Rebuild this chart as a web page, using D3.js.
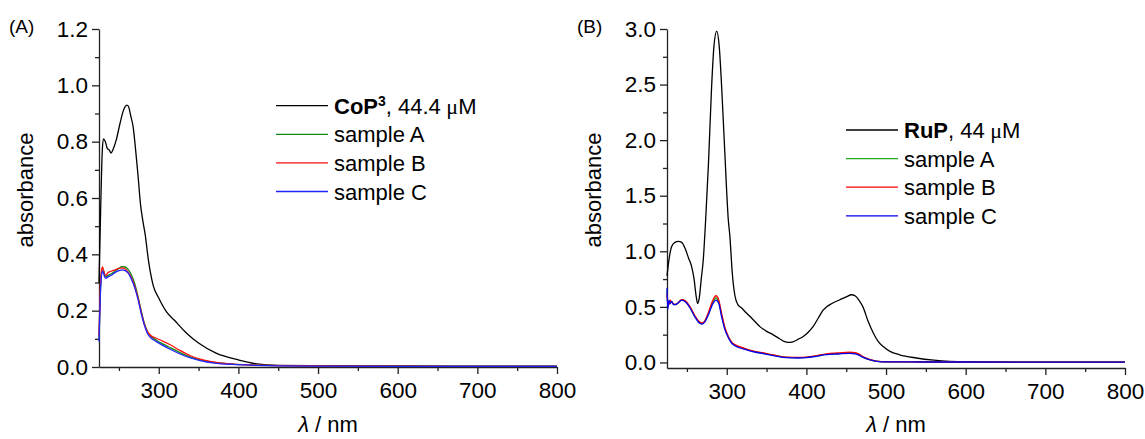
<!DOCTYPE html>
<html>
<head>
<meta charset="utf-8">
<script src="https://cdn.jsdelivr.net/npm/d3@7"></script>
<style>
  body { margin: 0; background: #fff; }
  text { font-family: "Liberation Sans", Arial, sans-serif; fill: #000; }
</style>
</head>
<body>
<div id="root"></div>
<script>
// ---- panel A : CoP3 ----
var wlA_ref = [225, 227, 229, 230.5, 233, 235.5, 238, 240, 243, 247, 251, 255, 258, 260, 262, 265, 268, 271, 274, 277, 280, 283, 287, 293, 300, 310, 320, 335, 350, 372, 400, 423, 450, 500, 600, 700, 800];
var absA_ref = [0.30, 0.55, 0.76, 0.81, 0.80, 0.775, 0.77, 0.76, 0.775, 0.81, 0.86, 0.905, 0.925, 0.93, 0.925, 0.89, 0.85, 0.77, 0.68, 0.58, 0.52, 0.47, 0.38, 0.29, 0.245, 0.195, 0.165, 0.12, 0.085, 0.049, 0.025, 0.011, 0.006, 0.005, 0.004, 0.003, 0.003];

var wlA_smp = [225, 226.5, 228, 229.5, 230.5, 232, 234, 236, 240, 245, 250, 254, 258, 262, 266, 270, 274, 278, 282, 286, 290, 297, 305, 315, 326, 340, 352, 370, 393, 420, 450, 500, 600, 700, 800];
var absA_green = [0.10, 0.25, 0.33, 0.35, 0.345, 0.33, 0.32, 0.325, 0.33, 0.34, 0.35, 0.356, 0.355, 0.345, 0.325, 0.295, 0.25, 0.20, 0.155, 0.125, 0.11, 0.095, 0.082, 0.068, 0.052, 0.035, 0.025, 0.016, 0.010, 0.007, 0.005, 0.004, 0.003, 0.002, 0.002];
var absA_red = [0.11, 0.27, 0.34, 0.355, 0.345, 0.33, 0.325, 0.335, 0.34, 0.345, 0.35, 0.352, 0.348, 0.335, 0.315, 0.285, 0.245, 0.195, 0.152, 0.125, 0.112, 0.102, 0.092, 0.078, 0.06, 0.04, 0.028, 0.017, 0.010, 0.007, 0.005, 0.004, 0.003, 0.002, 0.002];
var absA_blue = [0.09, 0.24, 0.32, 0.34, 0.335, 0.32, 0.315, 0.32, 0.325, 0.335, 0.342, 0.345, 0.342, 0.332, 0.31, 0.28, 0.24, 0.19, 0.148, 0.118, 0.104, 0.09, 0.077, 0.062, 0.047, 0.032, 0.023, 0.014, 0.009, 0.006, 0.004, 0.003, 0.002, 0.002, 0.002];

// ---- panel B : RuP ----
var wlB_ref = [225, 228, 231, 235, 239, 243.5, 248, 252, 256, 259, 261.5, 263.5, 265.5, 268, 270.5, 273.5, 277, 281, 284, 287.4, 290.5, 293.6, 297.5, 302, 304, 307, 310.3, 314, 318.7, 324, 329, 335, 342, 350, 358, 366, 372, 377, 383, 390, 396, 402, 408.6, 415, 421, 425.3, 432, 442, 450, 456.7, 461, 467, 471, 477, 484, 490, 496.4, 505, 517, 538, 560, 580, 600, 650, 700, 800];
var absB_ref = [0.78, 0.95, 1.045, 1.08, 1.09, 1.08, 1.02, 0.94, 0.86, 0.75, 0.60, 0.53, 0.58, 0.75, 0.92, 1.28, 1.78, 2.48, 2.85, 2.98, 2.85, 2.48, 1.90, 1.28, 1.13, 0.80, 0.60, 0.52, 0.49, 0.45, 0.415, 0.37, 0.32, 0.28, 0.25, 0.215, 0.19, 0.18, 0.185, 0.21, 0.234, 0.27, 0.324, 0.40, 0.47, 0.50, 0.53, 0.564, 0.59, 0.609, 0.60, 0.55, 0.50, 0.38, 0.265, 0.19, 0.144, 0.10, 0.069, 0.04, 0.02, 0.009, 0.005, 0.004, 0.003, 0.003];

var wlB_smp = [225, 226, 227.5, 229, 231, 233, 235, 238, 243.5, 248, 254, 260, 266.6, 269, 272, 277, 282, 286.5, 290, 293.6, 297.5, 301.9, 306, 310.3, 317, 325, 335, 345.8, 360, 375, 390, 400, 412, 425.4, 440, 454.6, 461, 466, 471.3, 480, 488, 500, 550, 600, 700, 800];
var absB_green = [0.64, 0.52, 0.54, 0.545, 0.545, 0.525, 0.52, 0.53, 0.562, 0.55, 0.495, 0.415, 0.355, 0.35, 0.365, 0.44, 0.535, 0.58, 0.545, 0.425, 0.31, 0.23, 0.18, 0.155, 0.135, 0.117, 0.097, 0.083, 0.063, 0.046, 0.043, 0.046, 0.058, 0.074, 0.08, 0.087, 0.083, 0.07, 0.048, 0.024, 0.011, 0.006, 0.004, 0.004, 0.003, 0.003];
var absB_red = [0.62, 0.55, 0.52, 0.56, 0.54, 0.53, 0.52, 0.53, 0.565, 0.555, 0.50, 0.42, 0.36, 0.355, 0.37, 0.45, 0.55, 0.60, 0.56, 0.44, 0.32, 0.235, 0.185, 0.16, 0.14, 0.12, 0.10, 0.085, 0.065, 0.048, 0.045, 0.048, 0.06, 0.078, 0.085, 0.092, 0.088, 0.075, 0.05, 0.025, 0.012, 0.006, 0.004, 0.004, 0.003, 0.003];
var absB_blue = [0.67, 0.48, 0.56, 0.53, 0.55, 0.52, 0.52, 0.53, 0.56, 0.545, 0.49, 0.41, 0.35, 0.345, 0.36, 0.43, 0.52, 0.56, 0.53, 0.41, 0.30, 0.225, 0.175, 0.15, 0.13, 0.113, 0.094, 0.08, 0.06, 0.043, 0.04, 0.043, 0.055, 0.07, 0.076, 0.082, 0.078, 0.066, 0.045, 0.022, 0.01, 0.005, 0.004, 0.004, 0.003, 0.003];

// ticks + legend labels
var xMajor = [300, 400, 500, 600, 700, 800];
var xMinor = [250, 350, 450, 550, 650, 750];
var yMajorA = [0, 0.2, 0.4, 0.6, 0.8, 1.0, 1.2];
var yMinorA = [0.1, 0.3, 0.5, 0.7, 0.9, 1.1];
var yMajorB = [0, 0.5, 1.0, 1.5, 2.0, 2.5, 3.0];
var yMinorB = [0.25, 0.75, 1.25, 1.75, 2.25, 2.75];
var sampleNames = ["sample A", "sample B", "sample C"];

var svg = d3.select("#root").append("svg")
    .attr("width", 1145)
    .attr("height", 439);

function zip(xs, ys) {
    return xs.map(function(x, i) { return [x, ys[i]]; });
}

function drawPanel(cfg) {
    var x = d3.scaleLinear().domain([225, 800]).range([cfg.left, cfg.right]);
    var y = d3.scaleLinear().domain(cfg.yDomain).range([cfg.bottom, 29]);
    var g = svg.append("g");

    // axes (major + minor)
    var xAx = g.append("g").attr("transform", "translate(0," + cfg.bottom + ")");
    xAx.call(d3.axisBottom(x).tickValues(xMajor).tickSize(7).tickSizeOuter(0).tickPadding(8).tickFormat(d3.format("d")));
    xAx.append("g").call(d3.axisBottom(x).tickValues(xMinor).tickSize(4).tickFormat(""))
        .select(".domain").remove();
    var yAx = g.append("g").attr("transform", "translate(" + cfg.left + ",0)");
    yAx.call(d3.axisLeft(y).tickValues(cfg.yMajor).tickSize(7).tickSizeOuter(0).tickPadding(4).tickFormat(d3.format(".1f")));
    yAx.append("g").call(d3.axisLeft(y).tickValues(cfg.yMinor).tickSize(4).tickFormat(""))
        .select(".domain").remove();
    g.selectAll(".domain, .tick line").attr("stroke", "#222").attr("stroke-width", 1.3);
    g.selectAll(".tick text").style("font-size", "22.5px").attr("fill", "#000");

    // curves
    var line = d3.line()
        .x(function(d) { return x(d[0]); })
        .y(function(d) { return y(d[1]); })
        .curve(d3.curveMonotoneX);
    cfg.series.forEach(function(s) {
        g.append("path")
            .attr("d", line(zip(s.wl, s.abs)))
            .attr("fill", "none")
            .attr("stroke", s.color)
            .attr("stroke-width", 1.3);
    });

    // legend
    var lg = g.append("g");
    cfg.series.forEach(function(s, i) {
        var ly = cfg.legendY + i * 28.6;
        lg.append("line")
            .attr("x1", cfg.legendX).attr("x2", cfg.legendX + 52)
            .attr("y1", ly).attr("y2", ly)
            .attr("stroke", s.color).attr("stroke-width", 1.3);
        var t = lg.append("text")
            .attr("x", cfg.legendX + 58).attr("y", ly + 8)
            .style("font-size", "22px");
        if (i === 0) {
            t.append("tspan").style("font-weight", "bold").text(cfg.refName);
            if (cfg.refSup) {
                t.append("tspan").style("font-weight", "bold").style("font-size", "14px")
                    .attr("dy", -8).text(cfg.refSup);
                t.append("tspan").attr("dy", 8).text(cfg.refConc);
            } else {
                t.append("tspan").text(cfg.refConc);
            }
            t.append("tspan").style("font-family", "'Liberation Serif', serif").text(" \u03bc");
            t.append("tspan").text("M");
        } else {
            t.text(sampleNames[i - 1]);
        }
    });

    // axis titles
    g.append("text")
        .attr("transform", "translate(" + cfg.yTitleX + ",190) rotate(-90)")
        .attr("text-anchor", "middle")
        .style("font-size", "22px")
        .text("absorbance");
    var xt = g.append("text")
        .attr("x", (cfg.left + cfg.right) / 2)
        .attr("y", 432)
        .attr("text-anchor", "middle")
        .style("font-size", "22px");
    xt.append("tspan").style("font-style", "italic").text("\u03bb");
    xt.append("tspan").text(" / nm");

    g.append("text")
        .attr("x", cfg.tagX).attr("y", 33)
        .style("font-size", "19px")
        .text(cfg.tag);
}

drawPanel({
    tag: "(A)", tagX: 9,
    left: 99, right: 557, bottom: 367,
    yDomain: [0, 1.2], yMajor: yMajorA, yMinor: yMinorA,
    yTitleX: 33,
    legendX: 276, legendY: 105.7,
    refName: "CoP", refSup: "3", refConc: ", 44.4",
    series: [
        { wl: wlA_ref, abs: absA_ref, color: "#000000" },
        { wl: wlA_smp, abs: absA_green, color: "#118811" },
        { wl: wlA_smp, abs: absA_red, color: "#ff1111" },
        { wl: wlA_smp, abs: absA_blue, color: "#2222ff" }
    ]
});

drawPanel({
    tag: "(B)", tagX: 577,
    left: 667, right: 1125, bottom: 368,
    yDomain: [-0.05, 3.0], yMajor: yMajorB, yMinor: yMinorB,
    yTitleX: 601,
    legendX: 846, legendY: 130,
    refName: "RuP", refSup: null, refConc: ", 44",
    series: [
        { wl: wlB_ref, abs: absB_ref, color: "#000000" },
        { wl: wlB_smp, abs: absB_green, color: "#22aa22" },
        { wl: wlB_smp, abs: absB_red, color: "#ff0000" },
        { wl: wlB_smp, abs: absB_blue, color: "#0000ee" }
    ]
});
</script>
</body>
</html>
